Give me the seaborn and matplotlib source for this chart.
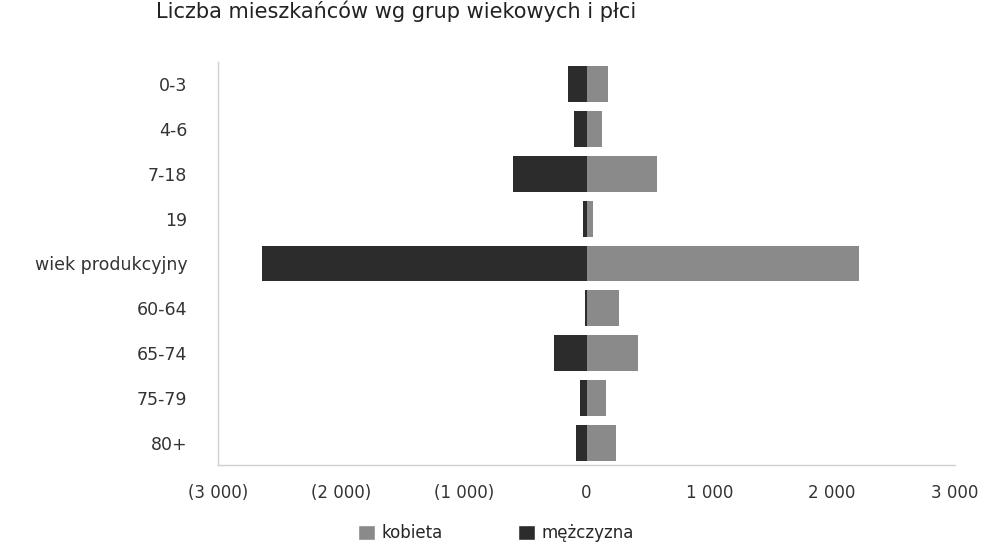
import matplotlib
matplotlib.use("Agg")
import matplotlib.pyplot as plt
import seaborn as sns
import pandas as pd
from matplotlib.ticker import FuncFormatter
from matplotlib.patches import Patch

categories = ["0-3", "4-6", "7-18", "19", "wiek produkcyjny", "60-64", "65-74", "75-79", "80+"]
kobieta = [175, 130, 575, 50, 2220, 265, 420, 155, 240]
mezczyzna = [150, 100, 600, 30, 2640, 10, 265, 50, 85]
xticks = [-3000, -2000, -1000, 0, 1000, 2000, 3000]

sns.set_theme(style="white")
plt.rcParams['font.family'] = ['DejaVu Sans']

df_k = pd.DataFrame({"grupa": categories, "wartosc": kobieta})
df_m = pd.DataFrame({"grupa": categories, "wartosc": [-v for v in mezczyzna]})

fig = plt.figure(figsize=(9.99, 5.48), dpi=100)
ax = fig.add_axes([218/999, 1 - 465/548, (955-218)/999, (465-62)/548])

c_k = "#8a8a8a"
c_m = "#2c2c2c"
sns.barplot(data=df_k, y="grupa", x="wartosc", orient="h", color=c_k, width=0.8,
            saturation=1, ax=ax, order=categories, linewidth=0)
sns.barplot(data=df_m, y="grupa", x="wartosc", orient="h", color=c_m, width=0.8,
            saturation=1, ax=ax, order=categories, linewidth=0)

ax.set_xlim(-3000, 3000)
ax.set_xticks(xticks)
def fmt(v, pos):
    v = int(round(v))
    s = f"{abs(v):,}".replace(",", " ")
    return f"({s})" if v < 0 else s
ax.xaxis.set_major_formatter(FuncFormatter(fmt))
ax.set_xlabel("")
ax.set_ylabel("")
ax.tick_params(axis="x", labelsize=12, colors="#333333", pad=14, length=0)
ax.tick_params(axis="y", labelsize=12.5, colors="#333333", pad=22, length=0)

for s in ["top", "right"]:
    ax.spines[s].set_visible(False)
for s in ["left", "bottom"]:
    ax.spines[s].set_color("#d0d0d0")
    ax.spines[s].set_linewidth(1)

fig.text(0.397, 1.0, "Liczba mieszkańców wg grup wiekowych i płci", ha="center", va="top",
         fontsize=15, color="#222222")

handles = [Patch(facecolor=c_k, label="kobieta"), Patch(facecolor=c_m, label="mężczyzna")]
fig.legend(handles=handles, loc="center", bbox_to_anchor=(496/999, 1 - 533/548), ncol=2,
           frameon=False, fontsize=12, handlelength=1.0, handleheight=1.0,
           handletextpad=0.4, columnspacing=4.5)

fig.savefig("out.png", dpi=100, facecolor="white")
